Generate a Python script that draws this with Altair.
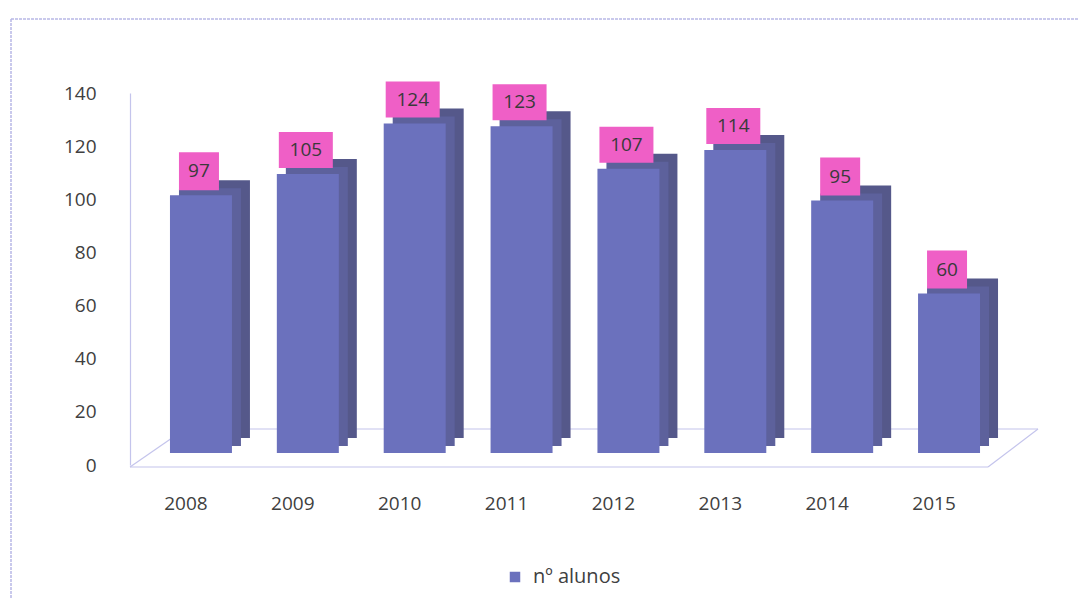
import altair as alt
import pandas as pd

# ---- data ----
anos = ["2008", "2009", "2010", "2011", "2012", "2013", "2014", "2015"]
alunos = [97, 105, 124, 123, 107, 114, 95, 60]
serie = "nº alunos"
y_ticks = [0, 20, 40, 60, 80, 100, 120, 140]

df = pd.DataFrame({"ano": anos, "alunos": alunos, "serie": [serie] * len(anos)})

FONT = "Open Sans"
TXT = "#404040"
FRONT = "#6b71bd"
SIDE = "#55588a"
PINK = "#ef5fc6"
LINE = "#c4c4ec"

W, H = 890, 372

x = alt.X(
    "ano:N",
    sort=anos,
    title=None,
    scale=alt.Scale(paddingInner=0.42, paddingOuter=0.374),
    axis=alt.Axis(
        domain=False, ticks=False, labelAngle=0, labelPadding=29, labelOffset=-15,
        labelFont=FONT, labelFontSize=19, labelColor=TXT, grid=False,
    ),
)
y = alt.Y(
    "alunos:Q",
    title=None,
    scale=alt.Scale(domain=[0, 140], nice=False),
    axis=alt.Axis(
        values=y_ticks, domain=True, domainColor=LINE, domainWidth=1.2, ticks=False,
        labelPadding=34, labelFont=FONT, labelFontSize=19, labelColor=TXT, grid=False,
    ),
)

base = alt.Chart(df)

# floor (decorative frame, like Excel 3-D floor)
frame = alt.Chart(pd.DataFrame({"k": [0]}))
floor_front = frame.mark_rule(color=LINE, strokeWidth=1.2).encode(
    x=alt.value(0), x2=alt.value(858), y=alt.value(H + 2), y2=alt.value(H + 2))
floor_right = frame.mark_rule(color=LINE, strokeWidth=1.2).encode(
    x=alt.value(858), x2=alt.value(908), y=alt.value(H + 2), y2=alt.value(H - 36))
floor_back = frame.mark_rule(color=LINE, strokeWidth=1.2).encode(
    x=alt.value(55), x2=alt.value(908), y=alt.value(H - 36), y2=alt.value(H - 36))
floor_left = frame.mark_rule(color=LINE, strokeWidth=1.2).encode(
    x=alt.value(0), x2=alt.value(55), y=alt.value(H + 2), y2=alt.value(H - 36))
# outer chart border
border_left = frame.mark_rule(color="#b8b8e6", strokeWidth=1.5, strokeDash=[3, 1]).encode(
    x=alt.value(-119), x2=alt.value(-119), y=alt.value(-74), y2=alt.value(H + 200))
border_top = frame.mark_rule(color="#b8b8e6", strokeWidth=1.5, strokeDash=[3, 1]).encode(
    x=alt.value(-119), x2=alt.value(W + 100), y=alt.value(-74), y2=alt.value(-74))

side = base.mark_bar(color=SIDE, xOffset=18, yOffset=-27).encode(x=x, y=y)
top = base.mark_bar(color="#5d619c", xOffset=9, yOffset=-19).encode(x=x, y=y)
front = base.mark_bar(xOffset=0, yOffset=-12).encode(
    x=x,
    y=y,
    color=alt.Color(
        "serie:N",
        scale=alt.Scale(domain=[serie], range=[FRONT]),
        legend=alt.Legend(
            title=None, orient="none", legendX=375, legendY=474, padding=0,
            symbolType="square", symbolSize=110, symbolStrokeWidth=0,
            labelFont=FONT, labelFontSize=20, labelColor=TXT, labelOffset=8,
        ),
    ),
)

box3 = base.transform_filter("datum.alunos >= 100").mark_point(
    shape="M-1,-0.667H1V0.667H-1Z", size=2916, filled=True, opacity=1,
    color=PINK, yOffset=-36, xOffset=-2,
).encode(x=x, y=y)
box2 = base.transform_filter("datum.alunos < 100").mark_point(
    shape="M-1,-0.95H1V0.95H-1Z", size=1600, filled=True, opacity=1,
    color=PINK, yOffset=-36, xOffset=-2,
).encode(x=x, y=y)
labels = base.mark_text(
    font=FONT, fontSize=19, color="#3a3a3a", yOffset=-36, dx=-2, baseline="middle",
).encode(x=x, y=y, text=alt.Text("alunos:Q"))

chart = alt.layer(
    floor_front, floor_right, floor_back, floor_left, border_left, border_top,
    side, top, front, box3, box2, labels,
).properties(
    width=W, height=H,
    autosize=alt.AutoSizeParams(type="none"),
    padding={"left": 122, "top": 85, "right": 58, "bottom": 133},
    background="white",
).configure_view(stroke=None)

chart.save("out.html", embed_options={"renderer": "svg", "actions": False})
